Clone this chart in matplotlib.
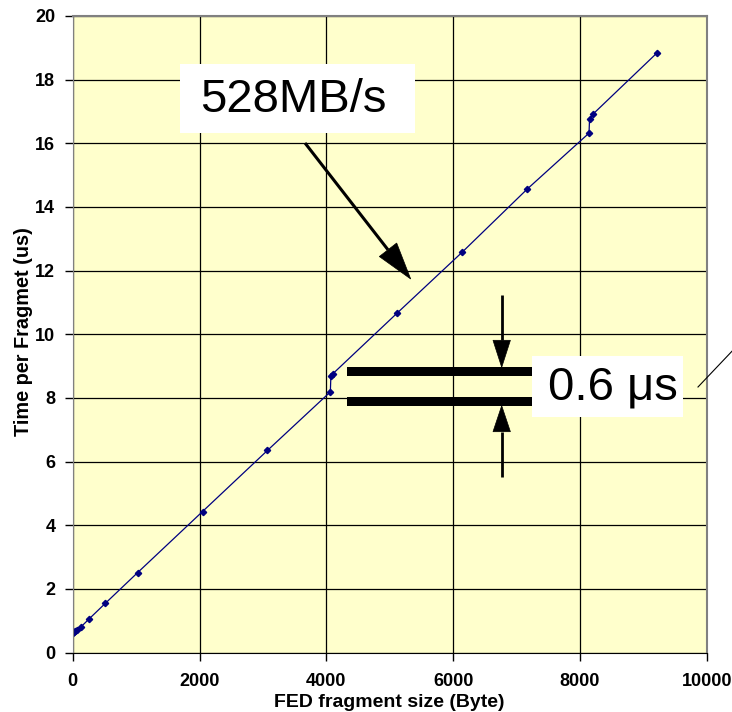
import math

import matplotlib
matplotlib.use("Agg")
import matplotlib.pyplot as plt
from matplotlib.lines import Line2D
from matplotlib.patches import Polygon, Rectangle

plt.rcParams["font.family"] = ["Liberation Sans", "DejaVu Sans"]

# data
fragment_size = [8, 16, 32, 64, 128, 256, 512, 1024, 2048, 3072,
                 4064, 4072, 4104, 5120, 6144, 7168, 8144, 8152, 8208, 9216]
time_us = [0.62, 0.64, 0.66, 0.70, 0.80, 1.05, 1.54, 2.51, 4.43, 6.35,
           8.19, 8.68, 8.76, 10.67, 12.58, 14.56, 16.32, 16.77, 16.92, 18.84]
x_ticks = [0, 2000, 4000, 6000, 8000, 10000]
y_ticks = [0, 2, 4, 6, 8, 10, 12, 14, 16, 18, 20]

W, H = 732, 712


def fxy(px, py):
    """pixel position (from top left) -> figure fraction"""
    return px / W, 1 - py / H


def arrow(fig, x0, y0, x1, y1, head_len, head_half, lw):
    d = math.hypot(x1 - x0, y1 - y0)
    ux, uy = (x1 - x0) / d, (y1 - y0) / d
    bx, by = x1 - ux * head_len, y1 - uy * head_len
    fig.add_artist(Line2D(*zip(fxy(x0, y0), fxy(bx, by)), transform=fig.transFigure,
                          color="black", lw=lw, solid_capstyle="butt"))
    pts = [fxy(x1, y1), fxy(bx - uy * head_half, by + ux * head_half),
           fxy(bx + uy * head_half, by - ux * head_half)]
    fig.add_artist(Polygon(pts, closed=True, transform=fig.transFigure,
                           facecolor="black", edgecolor="black", lw=0.5))


def box(fig, x0, y0, x1, y1, color):
    fx0, fy1 = fxy(x0, y0)
    fx1, fy0 = fxy(x1, y1)
    fig.add_artist(Rectangle((fx0, fy0), fx1 - fx0, fy1 - fy0, transform=fig.transFigure,
                             facecolor=color, edgecolor="none"))


fig = plt.figure(figsize=(W / 100, H / 100), dpi=100)
left, top, right, bottom = 72.7, 16, 706.7, 652.5
ax = fig.add_axes([left / W, 1 - bottom / H, (right - left) / W, (bottom - top) / H])
ax.set_facecolor("#FFFFCC")

ax.plot(fragment_size, time_us, color="#000080", lw=0.9, marker="D", markersize=3.2,
        markerfacecolor="#000080", markeredgecolor="#000080")

ax.set_xlim(0, 10000)
ax.set_ylim(0, 20)
ax.set_xticks(x_ticks)
ax.set_yticks(y_ticks)
ax.grid(True, color="black", lw=0.9)
ax.set_axisbelow(True)
ax.tick_params(direction="out", length=5.5, width=1, colors="black", labelsize=13)
ax.tick_params(axis="x", pad=9.5)
ax.tick_params(axis="y", pad=7)
for lab in ax.get_xticklabels() + ax.get_yticklabels():
    lab.set_fontweight("bold")
for side in ["top", "right"]:
    ax.spines[side].set_color("#808080")
    ax.spines[side].set_linewidth(1.5)
ax.spines["left"].set_color("#808080")
ax.spines["bottom"].set_color("black")

fig.text(*fxy(389, 707), "FED fragment size (Byte)", ha="center", va="baseline",
         fontsize=14, fontweight="bold")
fig.text(*fxy(24, 332), "Time per Fragmet (us)", ha="center", va="center",
         rotation=90, fontsize=14.3, fontweight="bold")

# 528MB/s label and arrow
box(fig, 180, 64, 415, 133, "white")
fig.text(*fxy(200, 112), "528MB/s", ha="left", va="baseline", fontsize=34)
arrow(fig, 305, 143, 410.7, 279, 37, 11, 2.2)

# 0.6 us step marker
box(fig, 347, 367.3, 537, 375.7, "black")
box(fig, 347, 397.3, 537, 405.7, "black")
arrow(fig, 501.7, 295, 501.7, 367.3, 27, 8.7, 2.0)
arrow(fig, 501.7, 477, 501.7, 405.7, 26, 8.7, 2.0)
box(fig, 531.7, 356, 683, 416.7, "white")
fig.text(*fxy(548, 400), "0.6 \u03bcs", ha="left", va="baseline", fontsize=34)
fig.add_artist(Line2D(*zip(fxy(698, 387), fxy(736, 347)), transform=fig.transFigure,
                      color="black", lw=0.8))

fig.savefig("out.png", dpi=100)
